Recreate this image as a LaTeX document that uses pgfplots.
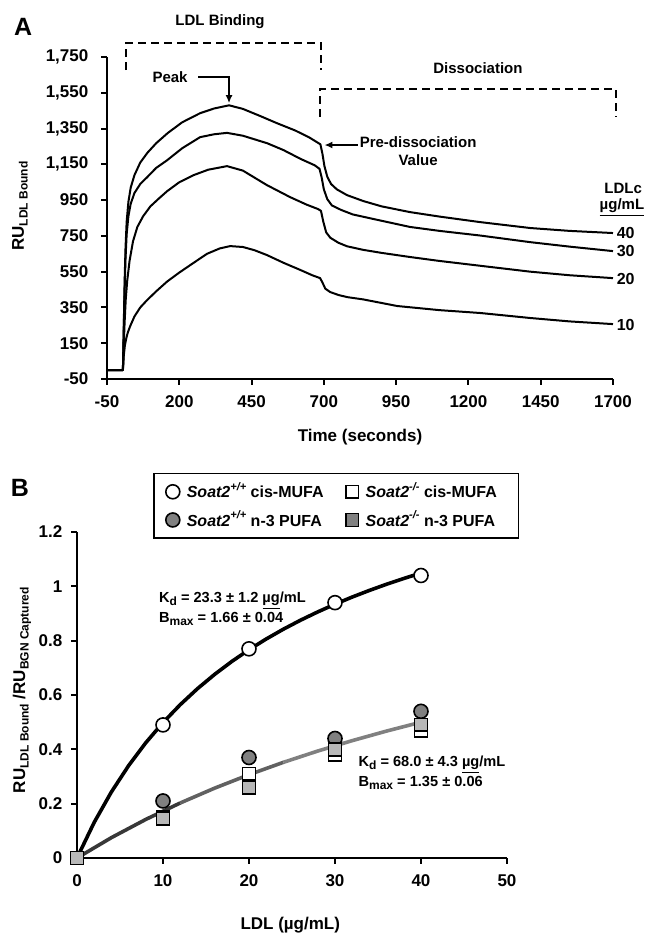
\documentclass[border=0pt]{standalone}
\usepackage{fontspec}
\setmainfont{Liberation Sans}
\usepackage{pgfplots}
\pgfplotsset{compat=1.18}
\usetikzlibrary{arrows.meta}

\definecolor{midgray}{gray}{0.5}
\definecolor{lightgray}{gray}{0.72}
\newcommand\sub[1]{\raisebox{-0.22em}{\fontsize{6}{7}\selectfont #1}}
\newcommand\supx[1]{\raisebox{0.45em}{\fontsize{5.5}{6}\selectfont #1}}

\begin{document}
\begin{tikzpicture}[font=\bfseries]
\useasboundingbox (0,0) rectangle (322.5pt,-467pt);

% ---- panel A: sensorgrams
\begin{axis}[
  at={(53.5pt,-189.5pt)}, anchor=south west,
  scale only axis, width=253pt, height=161pt,
  xmin=-50, xmax=1700, ymin=-50, ymax=1750,
  xtick={-50,200,...,1700}, ytick={-50,150,...,1750},
  axis lines=left, axis line style={line width=1pt,-},
  tick align=outside, major tick length=2.8pt,
  major tick style={line width=1pt, black},
  tick label style={font=\fontsize{8.5}{10}\bfseries, /pgf/number format/assume math mode=true},
  xticklabel style={/pgf/number format/1000 sep={}, yshift=-2pt},
  yticklabel style={/pgf/number format/1000 sep={,}, xshift=-3pt},
  clip=false]
% 40 ug/mL
\addplot[black, line width=1pt, line join=round] coordinates {
(-50,0)(5,0)(8,250)(11,500)(14,680)(18,830)(24,940)(32,1020)(45,1090)(65,1160)
(90,1215)(120,1268)(160,1325)(210,1385)(272,1436)(320,1462)(372,1480)(420,1460)
(480,1420)(538,1380)(600,1340)(650,1300)(688,1262)(695,1210)(702,1140)(712,1080)
(725,1040)(745,1010)(780,978)(836,945)(900,915)(998,883)(1100,858)(1241,827)
(1414,794)(1550,778)(1700,766)};
% 30 ug/mL
\addplot[black, line width=1pt, line join=round] coordinates {
(-50,0)(5,0)(8,230)(11,450)(14,620)(18,760)(24,860)(32,930)(45,990)(65,1040)
(90,1080)(120,1130)(158,1173)(210,1240)(272,1302)(320,1318)(365,1326)(420,1310)
(504,1268)(560,1230)(620,1180)(668,1145)(685,1125)(692,1080)(700,1010)(712,955)
(728,920)(760,895)(800,870)(870,845)(998,800)(1100,778)(1241,752)(1414,715)
(1550,690)(1700,665)};
% 20 ug/mL
\addplot[black, line width=1pt, line join=round] coordinates {
(-50,0)(5,0)(8,140)(11,270)(15,400)(20,500)(28,610)(40,720)(55,800)(75,860)
(100,915)(130,960)(158,1000)(200,1050)(250,1090)(300,1120)(365,1140)(420,1115)
(503,1034)(583,967)(640,925)(680,900)(690,890)(698,830)(708,770)(722,740)
(750,712)(780,692)(836,672)(900,655)(998,632)(1100,610)(1241,583)(1414,550)
(1550,530)(1700,514)};
% 10 ug/mL
\addplot[black, line width=1pt, line join=round] coordinates {
(-50,0)(5,0)(8,80)(12,140)(17,180)(22,210)(30,245)(45,300)(65,350)(88,390)
(120,440)(158,495)(200,545)(250,600)(296,650)(340,680)(376,693)(420,688)
(460,670)(503,643)(560,600)(618,560)(660,530)(687,514)(695,490)(705,455)
(722,436)(750,420)(780,408)(836,395)(954,358)(1100,335)(1241,319)(1414,291)
(1550,272)(1700,257)};

\draw[line width=1pt, dash pattern=on 4pt off 2.5pt]
  (axis cs:16,1677) -- (axis cs:16,1828) -- (axis cs:690,1828) -- (axis cs:690,1677);
\node[font=\fontsize{7.5}{9}\bfseries] at (axis cs:341,1946) {LDL Binding};
\draw[line width=1pt, dash pattern=on 4pt off 2.5pt]
  (axis cs:687,1415) -- (axis cs:687,1571) -- (axis cs:1710,1571) -- (axis cs:1710,1415);
\node[font=\fontsize{7.5}{9}\bfseries] at (axis cs:1233,1688) {Dissociation};
\node[font=\fontsize{7.5}{9}\bfseries] at (axis cs:168,1638) {Peak};
\draw[line width=1pt, -{Latex[length=4pt,width=3.5pt]}]
  (axis cs:265,1638) -| (axis cs:372,1492);
\draw[line width=1pt, -{Latex[length=4pt,width=3.5pt]}]
  (axis cs:818,1258) -- (axis cs:702,1258);
\node[font=\fontsize{7.5}{9}\bfseries, align=center] at (axis cs:1026,1225)
  {Pre-dissociation\\Value};
\node[font=\fontsize{7.5}{9}\bfseries] at (axis cs:1735,1018) {LDLc};
\node[font=\fontsize{7.5}{9}\bfseries] at (axis cs:1731,906) {\underline{µg/mL}};
\node[font=\fontsize{8}{9}\bfseries, anchor=west, inner sep=1pt] at (axis cs:1705,766) {40};
\node[font=\fontsize{8}{9}\bfseries, anchor=west, inner sep=1pt] at (axis cs:1705,665) {30};
\node[font=\fontsize{8}{9}\bfseries, anchor=west, inner sep=1pt] at (axis cs:1705,509) {20};
\node[font=\fontsize{8}{9}\bfseries, anchor=west, inner sep=1pt] at (axis cs:1705,252) {10};
\node[font=\fontsize{12.5}{14}\bfseries] at (axis cs:-340,1918) {A};
\node[rotate=90, font=\fontsize{8.5}{10}\bfseries] at (axis cs:-351,917) {RU\sub{LDL Bound}};
\node[font=\fontsize{8.5}{10}\bfseries] at (axis cs:825,-374) {Time (seconds)};
\end{axis}

% ---- panel B: binding isotherms
\begin{axis}[
  at={(38.5pt,-429pt)}, anchor=south west,
  scale only axis, width=215pt, height=163pt,
  xmin=0, xmax=50, ymin=0, ymax=1.2,
  xtick={0,10,...,50}, ytick={0,0.2,0.4,0.6,0.8,1,1.2},
  axis lines=left, axis line style={line width=1pt,-},
  tick align=outside, major tick length=2.8pt,
  major tick style={line width=1pt, black},
  tick label style={font=\fontsize{8.5}{10}\bfseries, /pgf/number format/assume math mode=true},
  xticklabel style={yshift=-2pt},
  yticklabel style={xshift=-1pt},
  clip=false,
  legend columns=2, legend cell align=left,
  legend image code/.code={\draw[#1] plot coordinates {(0pt,0pt)};},
  legend style={at={(axis description cs:0.177,1.181)}, anchor=north west,
    draw=black, line width=0.7pt, inner xsep=6pt, inner ysep=2.5pt, row sep=1pt,
    font=\fontsize{8}{9.6}\bfseries}]
\addlegendimage{only marks, mark=*, mark size=3.5pt, mark options={fill=white, draw=black, line width=0.8pt}}
\addlegendentry{\makebox[79pt][l]{\hspace{1.5pt}\textit{Soat2}\supx{\textit{+/+}} cis-MUFA}}
\addlegendimage{only marks, mark=square*, mark size=3.2pt, mark options={fill=white, draw=black, line width=0.8pt}}
\addlegendentry{\makebox[70pt][l]{\hspace{1.5pt}\textit{Soat2}\supx{\textit{-/-}} cis-MUFA}}
\addlegendimage{only marks, mark=*, mark size=3.5pt, mark options={fill=midgray, draw=black, line width=0.8pt}}
\addlegendentry{\makebox[79pt][l]{\hspace{1.5pt}\textit{Soat2}\supx{\textit{+/+}} n-3 PUFA}}
\addlegendimage{only marks, mark=square*, mark size=3.2pt, mark options={fill=midgray, draw=black, line width=0.8pt}}
\addlegendentry{\makebox[70pt][l]{\hspace{1.5pt}\textit{Soat2}\supx{\textit{-/-}} n-3 PUFA}}

% fitted curves
\addplot[forget plot, color=black!78, line width=1.8pt] coordinates {
(0,0)(4,0.075)(8,0.1421)(12,0.2025)};
\addplot[forget plot, color=black!62, line width=1.8pt] coordinates {
(12,0.2025)(16,0.2571)(20,0.3068)(24,0.3522)};
\addplot[forget plot, color=black!50, line width=1.8pt] coordinates {
(24,0.3522)(28,0.3938)(32,0.432)(36,0.4673)(40,0.5)};
\addplot[forget plot, black, line width=1.8pt] coordinates {
(0,0)(2,0.1312)(4,0.2432)(6,0.3399)(8,0.4243)(10,0.4985)(12,0.5643)(14,0.6231)
(16,0.6758)(18,0.7235)(20,0.7667)(22,0.8062)(24,0.8423)(26,0.8755)(28,0.9060)
(30,0.9343)(32,0.9606)(34,0.9850)(36,1.0078)(38,1.0290)(40,1.0490)};

% measured points
\addplot[forget plot, only marks, mark=*, mark size=3.5pt, mark options={fill=white, draw=black, line width=0.8pt}]
  coordinates {(10,0.49)(20,0.77)(30,0.94)(40,1.04)};
\addplot[forget plot, only marks, mark=*, mark size=3.5pt, mark options={fill=midgray, draw=black, line width=0.8pt}]
  coordinates {(10,0.21)(20,0.37)(30,0.44)(40,0.54)};
\addplot[forget plot, only marks, mark=square*, mark size=3.2pt, mark options={fill=white, draw=black, line width=0.8pt}]
  coordinates {(10,0.15)(20,0.31)(30,0.38)(40,0.47)};
\addplot[forget plot, only marks, mark=square*, mark size=3.2pt, mark options={fill=lightgray, draw=black, line width=0.8pt}]
  coordinates {(0,0)(10,0.145)(20,0.26)(30,0.40)(40,0.49)};

\node[font=\fontsize{7.3}{9}\bfseries, anchor=west, inner sep=0pt] at (axis cs:9.5,0.948)
  {K\sub{d} = 23.3 ± 1.2 \underline{µg}/mL};
\node[font=\fontsize{7.3}{9}\bfseries, anchor=west, inner sep=0pt] at (axis cs:9.5,0.88)
  {B\sub{max} = 1.66 ± 0.04};
\node[font=\fontsize{7.3}{9}\bfseries, anchor=west, inner sep=0pt] at (axis cs:32.7,0.343)
  {K\sub{d} = 68.0 ± 4.3 \underline{µg}/mL};
\node[font=\fontsize{7.3}{9}\bfseries, anchor=west, inner sep=0pt] at (axis cs:32.7,0.276)
  {B\sub{max} = 1.35 ± 0.06};
\node[font=\fontsize{12.5}{14}\bfseries] at (axis cs:-6.63,1.362) {B};
\node[rotate=90, font=\fontsize{8.5}{10}\bfseries] at (axis cs:-6.4,0.618)
  {RU\sub{LDL Bound} /RU\sub{BGN Captured}};
\node[font=\fontsize{8.5}{10}\bfseries] at (axis cs:24.8,-0.254) {LDL (\underline{µg}/mL)};
\end{axis}
\end{tikzpicture}
\end{document}
